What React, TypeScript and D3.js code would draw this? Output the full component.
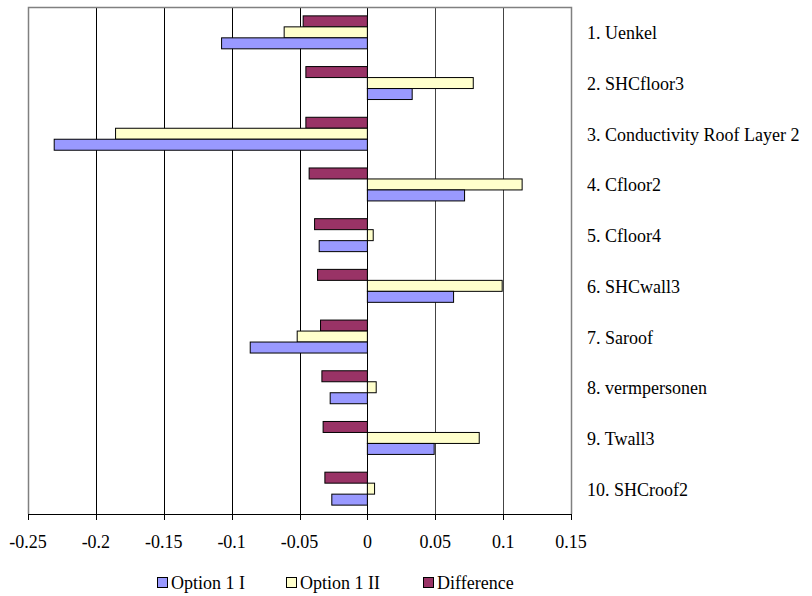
import React from "react";
import * as d3 from "d3";

const categories = [
  "1. Uenkel",
  "2. SHCfloor3",
  "3. Conductivity Roof Layer 2",
  "4. Cfloor2",
  "5. Cfloor4",
  "6. SHCwall3",
  "7. Saroof",
  "8. vermpersonen",
  "9. Twall3",
  "10. SHCroof2",
];

const option1I = [-0.1074, 0.033, -0.2307, 0.0716, -0.0355, 0.0635, -0.0863, -0.0274, 0.0492, -0.0262];
const option1II = [-0.0613, 0.078, -0.1855, 0.114, 0.0043, 0.0993, -0.0517, 0.0065, 0.0824, 0.0053];
const difference = [-0.0473, -0.0453, -0.0453, -0.0429, -0.0389, -0.0367, -0.0345, -0.0335, -0.0326, -0.0313];

const seriesNames = ["Option 1 I", "Option 1 II", "Difference"];
const seriesColors = ["#9999FF", "#FFFFCC", "#993366"];
const xTicks = [-0.25, -0.2, -0.15, -0.1, -0.05, 0, 0.05, 0.1, 0.15];

const W = 812;
const H = 596;
const left = 28;
const right = 571;
const top = 7;
const bottom = 514;
const textStyle = { fontFamily: "Liberation Serif", fontSize: "18px" };

export default function App() {
  const x = d3.scaleLinear().domain([-0.25, 0.15]).range([left, right]);
  const y = d3
    .scaleBand<string>()
    .domain(categories)
    .range([top, bottom])
    .paddingInner(0.35)
    .paddingOuter(0.175);
  // draw order top to bottom: Difference, Option 1 II, Option 1 I
  const series = [
    { name: seriesNames[2], color: seriesColors[2], values: difference },
    { name: seriesNames[1], color: seriesColors[1], values: option1II },
    { name: seriesNames[0], color: seriesColors[0], values: option1I },
  ];
  const sub = d3
    .scaleBand<string>()
    .domain(series.map((s) => s.name))
    .range([0, y.bandwidth()]);
  const fmt = (v: number) => String(+v.toFixed(2));

  const legendItems = [
    { name: seriesNames[0], color: seriesColors[0], x: 157 },
    { name: seriesNames[1], color: seriesColors[1], x: 286 },
    { name: seriesNames[2], color: seriesColors[2], x: 423 },
  ];

  return (
    <svg
      width={W}
      height={H}
      style={{ position: "absolute", left: 0, top: 0, background: "#fff" }}
    >
      <rect x={0} y={0} width={W} height={H} fill="#fff" />
      {xTicks.slice(1, -1).map((t) => (
        <line
          key={"g" + t}
          x1={Math.round(x(t)) + 0.5}
          x2={Math.round(x(t)) + 0.5}
          y1={top}
          y2={bottom}
          stroke={t > 0 ? "#444" : "#000"}
          strokeWidth={1}
        />
      ))}
      <path
        d={`M${left + 0.5},${bottom} V${top + 0.5} H${right + 0.5} V${bottom}`}
        fill="none"
        stroke="#808080"
        strokeWidth={1.5}
      />
      {series.map((s) =>
        s.values.map((v, i) => {
          const x0 = x(Math.min(0, v));
          const x1 = x(Math.max(0, v));
          return (
            <rect
              key={s.name + i}
              x={x0}
              y={(y(categories[i]) ?? 0) + (sub(s.name) ?? 0)}
              width={x1 - x0}
              height={sub.bandwidth()}
              fill={s.color}
              stroke="#000"
              strokeWidth={1}
            />
          );
        })
      )}
      <line x1={left} x2={right + 1} y1={bottom + 0.5} y2={bottom + 0.5} stroke="#000" strokeWidth={1} />
      {xTicks.map((t) => (
        <g key={"t" + t}>
          <line
            x1={Math.round(x(t)) + 0.5}
            x2={Math.round(x(t)) + 0.5}
            y1={bottom}
            y2={bottom + 6}
            stroke="#000"
          />
          <text x={x(t)} y={548} textAnchor="middle" style={textStyle} fill="#000">
            {fmt(t)}
          </text>
        </g>
      ))}
      {categories.map((c) => (
        <text
          key={c}
          x={587}
          y={(y(c) ?? 0) + y.bandwidth() / 2 + 7}
          style={textStyle}
          fill="#000"
        >
          {c}
        </text>
      ))}
      {legendItems.map((l) => (
        <g key={l.name}>
          <rect x={l.x + 0.5} y={577.5} width={10} height={10} fill={l.color} stroke="#000" strokeWidth={1} />
          <text x={l.x + 14} y={589} style={textStyle} fill="#000">
            {l.name}
          </text>
        </g>
      ))}
    </svg>
  );
}
